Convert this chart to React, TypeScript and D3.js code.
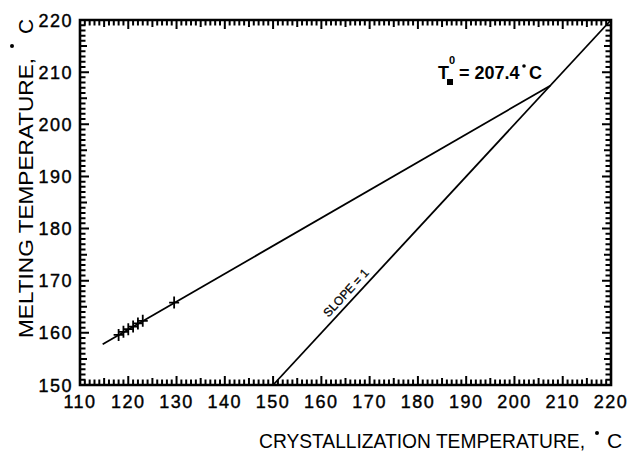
import React from "react";
import * as d3 from "d3";

const xTickValues = [110, 120, 130, 140, 150, 160, 170, 180, 190, 200, 210, 220];
const yTickValues = [150, 160, 170, 180, 190, 200, 210, 220];
const crossX = [118, 119, 120, 121, 122, 123, 129.5];
const crossY = [159.6, 160.2, 160.7, 161.2, 161.8, 162.3, 165.8];
const fitLine: [number, number][] = [[114.7, 157.8], [207.4, 207.4]];
const slopeLine: [number, number][] = [[150, 150], [220, 220]];
const xLabel = "CRYSTALLIZATION TEMPERATURE,";
const yLabel = "MELTING TEMPERATURE,";
const tmValue = "= 207.4";

const W = 631, H = 452;
const L = 80, R = 611, T = 20, B = 385;

export default function App() {
  const x = d3.scaleLinear().domain([110, 220]).range([L, R]);
  const y = d3.scaleLinear().domain([150, 220]).range([B, T]);
  const line = d3.line<[number, number]>().x(d => x(d[0])).y(d => y(d[1]));
  const minorX = d3.range(110, 221);
  const minorY = d3.range(150, 221);
  const font = "'Liberation Sans', Arial, Helvetica, sans-serif";
  const tlen = (v: number) => (v % 10 === 0 ? 9 : v % 5 === 0 ? 7 : 5.5);
  const g = 1; // start ticks just inside the frame stroke
  const parts: string[] = [];
  minorX.forEach(v => {
    const px = x(v);
    parts.push(`M${px},${B - g}L${px},${B - tlen(v)}`);
    parts.push(`M${px},${T + g}L${px},${T + tlen(v)}`);
  });
  minorY.forEach(v => {
    const py = y(v);
    parts.push(`M${L + g},${py}L${L + tlen(v)},${py}`);
    parts.push(`M${R - g},${py}L${R - tlen(v)},${py}`);
  });
  const tickPath = parts.join("");
  const crossPath = crossX
    .map((cx, i) => {
      const px = x(cx), py = y(crossY[i]);
      return `M${px},${py - 6}V${py + 6}M${px - 5},${py}H${px + 5}`;
    })
    .join("");
  const ang = Math.atan2(y(220) - y(150), x(220) - x(150)) * 180 / Math.PI;
  const sx = x(166.5), sy = y(166.5);
  return (
    <svg width={W} height={H} viewBox={`0 0 ${W} ${H}`} style={{ position: "absolute", left: 0, top: 0, background: "#fff" }}>
      <path d={tickPath} fill="none" stroke="#000" strokeWidth={2} />
      <path d={`M${L},${T}L${R},${T}L${R},${B}L${L},${B}Z`} fill="none" stroke="#000" strokeWidth={2.6} />
      <path d={line(fitLine) || ""} fill="none" stroke="#000" strokeWidth={1.8} />
      <path d={line(slopeLine) || ""} fill="none" stroke="#000" strokeWidth={1.8} />
      <path d={crossPath} fill="none" stroke="#000" strokeWidth={1.8} />
      <g fontFamily={font} fontSize={18} fill="#000" stroke="#000" strokeWidth={0.4}>
        {xTickValues.map(v => (
          <text key={"xl" + v} x={x(v)} y={408} textAnchor="middle" letterSpacing={1.5}>{v}</text>
        ))}
        {yTickValues.map(v => (
          <text key={"yl" + v} x={73} y={y(v) + 6.5} textAnchor="end" letterSpacing={1.5}>{v}</text>
        ))}
      </g>
      <text x={259} y={448} fontFamily={font} fontSize={21} fill="#000" textLength={326} lengthAdjust="spacingAndGlyphs">
        {xLabel}
      </text>
      <circle cx={597} cy={433} r={2} fill="#000" />
      <text x={607} y={448} fontFamily={font} fontSize={21} fill="#000">C</text>
      <text transform="translate(33,338) rotate(-90)" fontFamily={font} fontSize={21} fill="#000" textLength={280} lengthAdjust="spacingAndGlyphs">
        {yLabel}
      </text>
      <circle cx={12} cy={46} r={2} fill="#000" />
      <text transform="translate(33,34) rotate(-90)" fontFamily={font} fontSize={21} fill="#000">C</text>
      <text transform={`translate(${sx},${sy}) rotate(${ang}) translate(0,-5)`} textAnchor="middle" fontFamily={font} fontSize={12} fill="#000" stroke="#000" strokeWidth={0.3}>
        SLOPE = 1
      </text>
      <g fontFamily={font} fill="#000">
        <text x={438} y={79} fontSize={18} fontWeight="bold">T</text>
        <text x={449} y={64} fontSize={11} fontWeight="bold">0</text>
        <rect x={447} y={79} width={6} height={6} fill="#000" />
        <text x={459} y={79} fontSize={18} fontWeight="bold">{tmValue}</text>
        <circle cx={524} cy={66} r={1.8} fill="#000" />
        <text x={529} y={79} fontSize={18} fontWeight="bold">C</text>
      </g>
    </svg>
  );
}
